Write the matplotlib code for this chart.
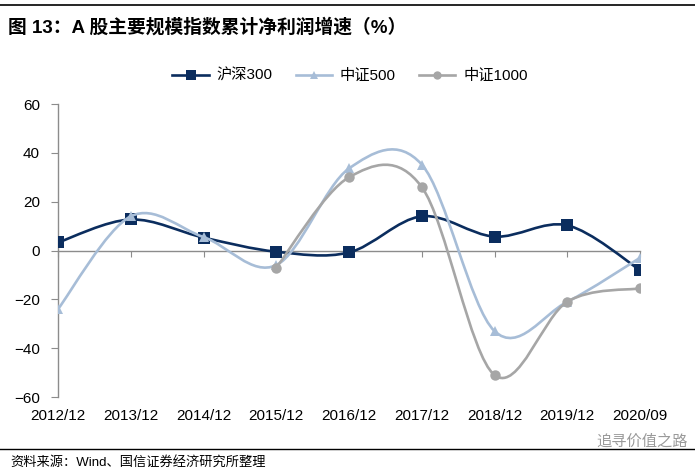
import matplotlib.pyplot as plt
import numpy as np
from matplotlib.path import Path
from matplotlib.patches import PathPatch
from matplotlib.lines import Line2D
import matplotlib.transforms as mtransforms

plt.rcParams['font.family'] = ['Liberation Sans', 'Noto Sans CJK SC', 'DejaVu Sans']

# Data
periods = ['2012/12', '2013/12', '2014/12', '2015/12', '2016/12',
           '2017/12', '2018/12', '2019/12', '2020/09']
hs300 = [3.3, 12.7, 5.3, -0.5, -0.8, 14.0, 5.7, 10.3, -8.0]
zz500 = [-24.0, 14.0, 5.5, -6.0, 33.6, 35.2, -33.0, -21.0, -3.0]
zz1000_idx = [3, 4, 5, 6, 7, 8]
zz1000 = [-7.0, 30.0, 26.0, -51.0, -21.0, -15.5]

series_names = ['沪深300', '中证500', '中证1000']
colors = ['#0b2d5e', '#a7bdd7', '#a6a6a6']
markers = ['s', '^', 'o']
msizes = [8.5, 7.5, 7.5]


def smooth_path(xs, ys):
    # Excel-style smoothed line: cubic bezier through the points
    pts = np.column_stack([xs, ys]).astype(float)
    n = len(pts)
    verts = [pts[0]]
    codes = [Path.MOVETO]
    for i in range(n - 1):
        p0 = pts[i - 1] if i > 0 else pts[i]
        p1 = pts[i]
        p2 = pts[i + 1]
        p3 = pts[i + 2] if i + 2 < n else pts[i + 1]
        c1 = p1 + (p2 - p0) / 6.0
        c2 = p2 - (p3 - p1) / 6.0
        verts += [c1, c2, p2]
        codes += [Path.CURVE4] * 3
    return Path(verts, codes)


fig = plt.figure(figsize=(6.95, 4.73), dpi=100)
ax = fig.add_axes([58 / 695, 76 / 473, 582 / 695, 293 / 473])

x_all = np.arange(len(periods))
# draw order: hs300 on top
draw = [(2, np.array(zz1000_idx), zz1000), (1, x_all, zz500), (0, x_all, hs300)]
for k, xs, ys in draw:
    patch = PathPatch(smooth_path(xs, ys), fill=False, edgecolor=colors[k],
                      lw=1.9, capstyle='round', joinstyle='round', zorder=3 + k)
    ax.add_patch(patch)
    ax.plot(xs, ys, linestyle='none', marker=markers[k], markersize=msizes[k],
            color=colors[k], markeredgewidth=0, zorder=3.5 + k)

ax.set_xlim(0, 8)
ax.set_ylim(-60, 60)
ax.set_yticks(np.arange(-60, 61, 20))
ax.set_xticks(x_all)
ax.set_xticklabels([])

axis_grey = '#8c8c8c'
for s in ['top', 'right']:
    ax.spines[s].set_visible(False)
ax.spines['left'].set_color(axis_grey)
ax.spines['bottom'].set_color(axis_grey)
ax.spines['bottom'].set_position(('data', 0))
ax.spines['left'].set_linewidth(1.0)
ax.spines['bottom'].set_linewidth(1.0)
ax.tick_params(axis='y', direction='out', length=5, color=axis_grey,
               labelsize=11, pad=8)
ax.tick_params(axis='x', direction='out', length=4, color=axis_grey,
               labelbottom=False)

trans = mtransforms.blended_transform_factory(ax.transData, ax.transAxes)
for i, lab in enumerate(periods):
    ax.text(i, -0.04, lab, transform=trans, ha='center', va='top', fontsize=11)

handles = [Line2D([], [], color=colors[k], lw=1.9, marker=markers[k],
                  markersize=msizes[k] - 1.5, markeredgewidth=0)
           for k in range(3)]
fig.legend(handles, series_names, loc='center', bbox_to_anchor=(350 / 695, 1 - 76 / 473),
           ncol=3, frameon=False, fontsize=11, handlelength=2.4,
           columnspacing=1.5, handletextpad=0.5)

# Title and footer
fig.add_artist(Line2D([0, 1], [1 - 5 / 473, 1 - 5 / 473], color='black', lw=1.2))
fig.text(8 / 695, 1 - 27 / 473, '图 13：A 股主要规模指数累计净利润增速（%）',
         fontsize=13.5, fontweight='bold', ha='left', va='center')
fig.add_artist(Line2D([0, 1], [1 - 449 / 473, 1 - 449 / 473], color='black', lw=1.0))
fig.text(10 / 695, 1 - 462 / 473, '资料来源：Wind、国信证券经济研究所整理',
         fontsize=9.5, ha='left', va='center')
fig.text(688 / 695, 1 - 442 / 473, '追寻价值之路', fontsize=11, color='#9a9a9a',
         ha='right', va='center')

fig.savefig('out.png', dpi=100)
